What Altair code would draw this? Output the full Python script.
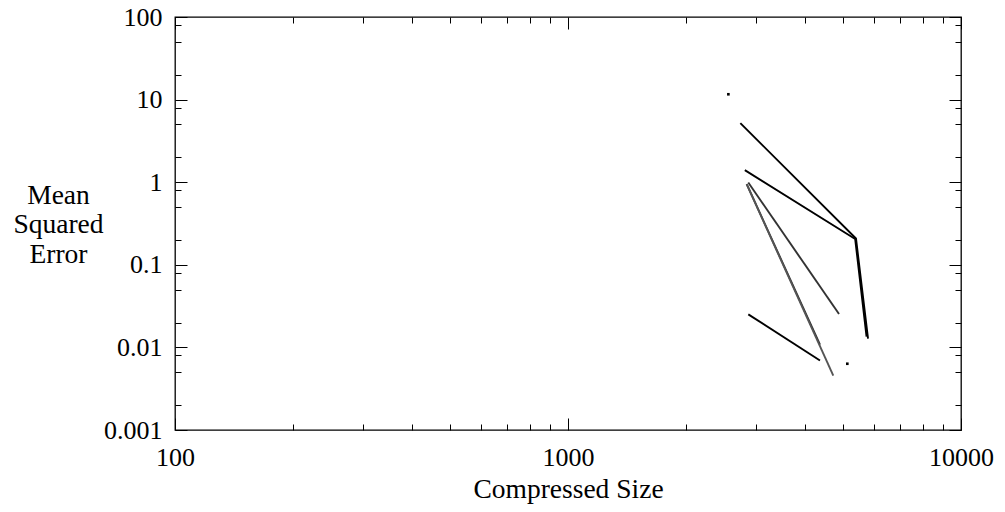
import altair as alt
import pandas as pd

# ---- data ----
series_names = ["A", "B", "C", "D", "E", "F"]
a_x = [2745, 5405, 5800]
a_y = [5.19, 0.208, 0.0128]
b_x = [2818, 5380, 5750]
b_y = [1.40, 0.205, 0.0135]
c_x = [2876, 4893]
c_y = [0.99, 0.0254]
d_x = [2849, 4377]
d_y = [0.946, 0.0108]
e_x = [2849, 4732]
e_y = [0.946, 0.00454]
f_x = [2876, 4377]
f_y = [0.0251, 0.00695]
dot_x = [2559, 5137]
dot_y = [11.6, 0.00634]

series_colors = ["#000000", "#000000", "#333333", "#2a2a2a", "#555555", "#000000"]
series_widths = [1.9, 1.9, 1.4, 1.4, 1.2, 1.9]

x_major = [100, 1000, 10000]
x_minor = [200, 300, 400, 500, 600, 700, 800, 900,
           2000, 3000, 4000, 5000, 6000, 7000, 8000, 9000]
y_major = [0.001, 0.01, 0.1, 1, 10, 100]
y_minor = [0.002, 0.005, 0.008, 0.02, 0.05, 0.08, 0.2, 0.5, 0.8,
           2, 5, 8, 20, 50, 80]

FONT = "Liberation Serif"
FS = 26
TFS = 27.5

rows = []
for name, xs_, ys_ in zip(series_names, [a_x, b_x, c_x, d_x, e_x, f_x],
                          [a_y, b_y, c_y, d_y, e_y, f_y]):
    for i, (xv, yv) in enumerate(zip(xs_, ys_)):
        rows.append({"series": name, "i": i, "x": xv, "y": yv})
df = pd.DataFrame(rows)
dots = pd.DataFrame({"x": dot_x, "y": dot_y})

xs = alt.Scale(type="log", domain=[100, 10000], nice=False)
ys = alt.Scale(type="log", domain=[0.001, 100], nice=False)

main_x = alt.Axis(orient="bottom", values=x_major, format="~g", tickSize=0,
                  domain=False, grid=False, labelFont=FONT, labelFontSize=FS,
                  labelColor="black", labelPadding=14, labelFlush=False,
                  title="Compressed Size", titleFont=FONT, titleFontSize=TFS,
                  titleFontWeight="normal", titleColor="black",
                  titleBaseline="alphabetic", titleY=67)
main_y = alt.Axis(orient="left", values=y_major, format="~g", tickSize=0,
                  domain=False, grid=False, labelFont=FONT, labelFontSize=FS,
                  labelColor="black", labelPadding=13, labelFlush=False,
                  title=["Mean", "Squared", "Error"], titleFont=FONT,
                  titleFontSize=TFS, titleFontWeight="normal", titleColor="black",
                  titleAngle=0, titleAlign="center", titleBaseline="alphabetic",
                  titleX=-117, titleY=186, titleLineHeight=29.5)

lines = alt.Chart(df).mark_line().encode(
    x=alt.X("x:Q", scale=xs, axis=main_x),
    y=alt.Y("y:Q", scale=ys, axis=main_y),
    detail="series:N",
    order="i:Q",
    color=alt.Color("series:N", scale=alt.Scale(domain=series_names, range=series_colors), legend=None),
    strokeWidth=alt.StrokeWidth("series:N", scale=alt.Scale(domain=series_names, range=series_widths), legend=None),
)

dot_layer = alt.Chart(dots).mark_square(size=7, color="black", opacity=1).encode(
    x=alt.X("x:Q", scale=xs, axis=None),
    y=alt.Y("y:Q", scale=ys, axis=None),
)


def tick_axis(orient, vals, size):
    return alt.Axis(orient=orient, values=vals, tickSize=size, offset=-size,
                    domain=False, labels=False, grid=False, title=None,
                    ticks=True, tickColor="black", tickWidth=1)


def hidden(xa, ya):
    return alt.Chart(df).mark_point(opacity=0).encode(
        x=alt.X("x:Q", scale=xs, axis=xa),
        y=alt.Y("y:Q", scale=ys, axis=ya),
    )


h1 = hidden(tick_axis("bottom", x_major, 12), tick_axis("left", y_major, 12))
h2 = hidden(tick_axis("bottom", x_minor, 6), tick_axis("left", y_minor, 6))
h3 = hidden(tick_axis("top", x_major, 12), tick_axis("right", y_major, 12))
h4 = hidden(tick_axis("top", x_minor, 6), tick_axis("right", y_minor, 6))

chart = alt.layer(lines, dot_layer, h1, h2, h3, h4).resolve_axis(
    x="independent", y="independent"
).properties(
    width=786, height=413,
    autosize=alt.AutoSizeParams(type="none"),
    padding={"left": 175, "top": 17, "right": 44, "bottom": 82},
    background="white",
).configure_view(stroke="black", strokeWidth=1.3)

chart.save("out.html", embed_options={"renderer": "svg", "actions": False})
